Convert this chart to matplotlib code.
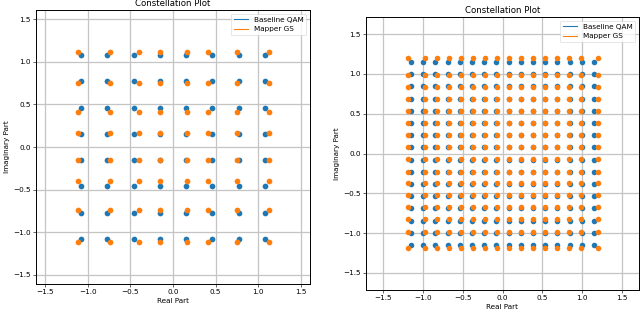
import numpy as np
import matplotlib
matplotlib.use("Agg")
import matplotlib.pyplot as plt
from matplotlib.lines import Line2D

# ---- data ----
# Left panel: 64-point constellation
left_base_levels = [-1.080, -0.772, -0.463, -0.154, 0.154, 0.463, 0.772, 1.080]
left_gs_x_levels = [-1.118, -0.738, -0.403, -0.158, 0.159, 0.408, 0.748, 1.123]
left_gs_y_levels = [-1.12, -0.745, -0.405, -0.158, 0.16, 0.41, 0.752, 1.122]

# Right panel: 256-point constellation
right_base_levels = [-1.150, -0.997, -0.844, -0.690, -0.537, -0.383, -0.230, -0.077,
                     0.077, 0.230, 0.383, 0.537, 0.690, 0.844, 0.997, 1.150]
right_gs_x_levels = [-1.185, -0.978, -0.818, -0.668, -0.525, -0.375, -0.222, -0.072,
                     0.085, 0.232, 0.379, 0.533, 0.690, 0.837, 0.990, 1.200]
right_gs_y_levels = [-1.190, -0.980, -0.825, -0.675, -0.525, -0.375, -0.230, -0.075,
                     0.080, 0.230, 0.380, 0.535, 0.685, 0.830, 0.990, 1.195]

series_labels = ["Baseline QAM", "Mapper GS"]
title_text = "Constellation Plot"
xlabel_text = "Real Part"
ylabel_text = "Imaginary Part"
ticks = [-1.5, -1.0, -0.5, 0.0, 0.5, 1.0, 1.5]

C_BLUE = "#1f77b4"
C_ORANGE = "#ff7f0e"

fig = plt.figure(figsize=(6.4, 3.14), dpi=100)
W, H = 640, 314
K = 0.52  # overall scale of the original figure


def px_axes(x0, y0, x1, y1):
    return fig.add_axes([x0 / W, (H - y1) / H, (x1 - x0) / W, (y1 - y0) / H])


def draw(ax, base_levels, gs_x, gs_y, lim, s):
    bx, by = np.meshgrid(base_levels, base_levels)
    gx, gy = np.meshgrid(gs_x, gs_y)
    ax.scatter(bx.ravel(), by.ravel(), s=s, color=C_BLUE, linewidths=0, zorder=3)
    ax.scatter(gx.ravel(), gy.ravel(), s=s, color=C_ORANGE, linewidths=0, zorder=4)
    ax.set_xlim(-lim, lim)
    ax.set_ylim(-lim, lim)
    ax.set_xticks(ticks)
    ax.set_yticks(ticks)
    ax.grid(True, color="#c4c4c4", linewidth=0.9, zorder=0)
    ax.set_axisbelow(True)
    ax.tick_params(labelsize=10 * K, length=3.5 * K, width=0.8 * K, pad=3.5 * K)
    for sp in ax.spines.values():
        sp.set_linewidth(0.7)
    ax.set_title(title_text, fontsize=12 * K, pad=6 * K)
    ax.set_xlabel(xlabel_text, fontsize=10 * K, labelpad=4 * K)
    ax.set_ylabel(ylabel_text, fontsize=10 * K, labelpad=4 * K)
    handles = [Line2D([0], [0], color=C_BLUE, lw=1.5 * K),
               Line2D([0], [0], color=C_ORANGE, lw=1.5 * K)]
    leg = ax.legend(handles, series_labels, loc="upper right", fontsize=10 * K,
                    framealpha=0.8, fancybox=True)
    leg.get_frame().set_linewidth(0.8 * K)


ax1 = px_axes(36, 10, 310, 284)
draw(ax1, left_base_levels, left_gs_x_levels, left_gs_y_levels, 1.61, 17)

ax2 = px_axes(366, 17, 639, 290)
draw(ax2, right_base_levels, right_gs_x_levels, right_gs_y_levels, 1.715, 16)

fig.savefig("out.png", dpi=100)
